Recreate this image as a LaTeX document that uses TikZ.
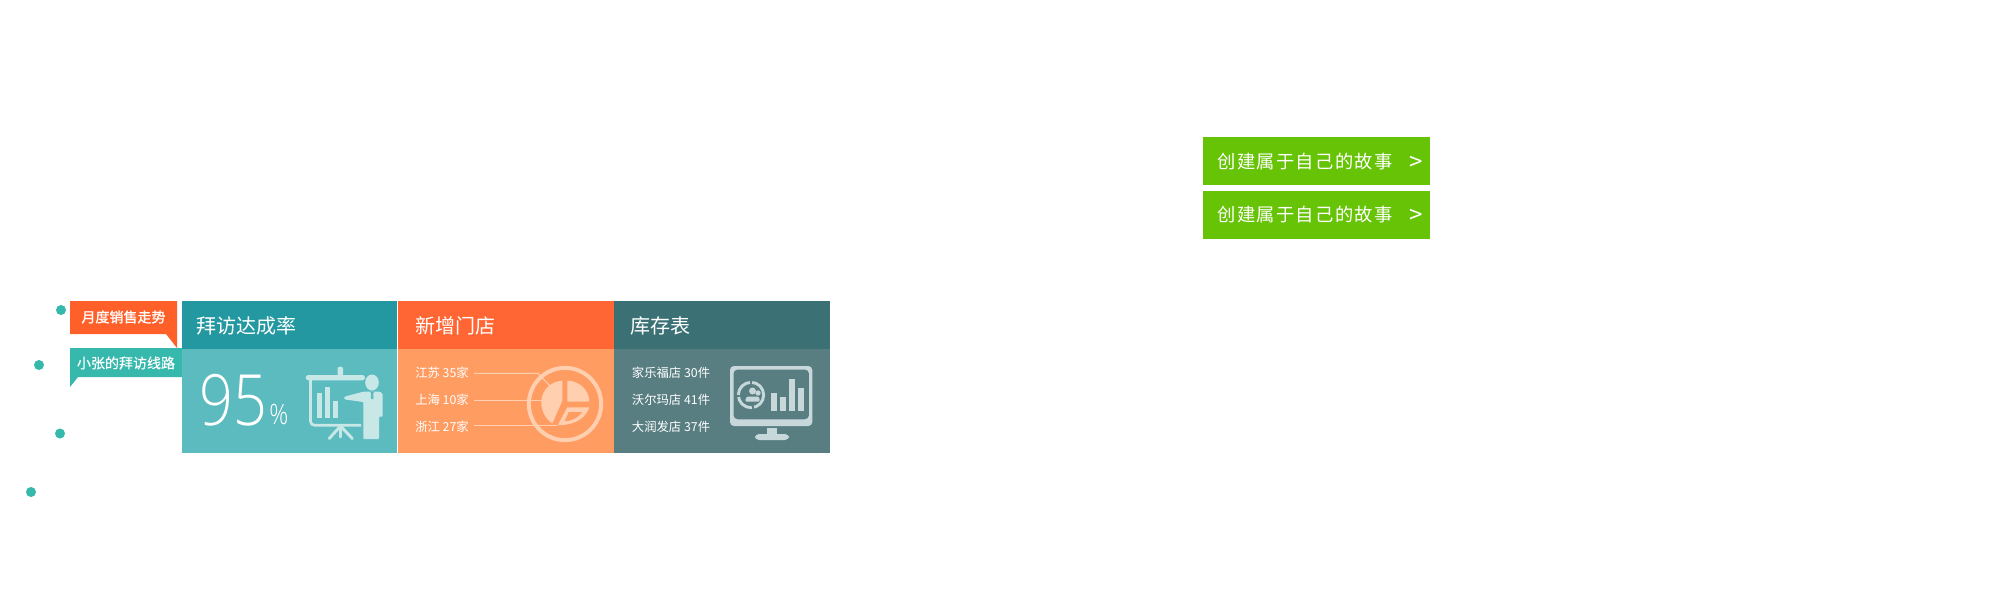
\documentclass[tikz,border=0pt]{standalone}
\usepackage{fontspec}
\newfontfamily\cjk{Noto Sans CJK SC}
\newfontfamily\cjkbold[FakeBold=1.2]{Noto Sans CJK SC}
\newfontfamily\cjksemi[FakeBold=0.4]{Noto Sans CJK SC}
\newfontfamily\cjkb[LetterSpace=7]{Noto Sans CJK SC}
\newfontfamily\thinf[FakeStretch=0.84]{Open Sans Light}
\definecolor{tealdot}{HTML}{36B8AC}
\definecolor{lblorange}{HTML}{FF6029}
\definecolor{hteal}{HTML}{2398A0}
\definecolor{bteal}{HTML}{5CBBBF}
\definecolor{horange}{HTML}{FF6633}
\definecolor{borange}{HTML}{FF9C62}
\definecolor{hdark}{HTML}{3B7074}
\definecolor{bdark}{HTML}{587E82}
\definecolor{icteal}{HTML}{C8E8E8}
\definecolor{icorange}{HTML}{FFCFB0}
\definecolor{icdark}{HTML}{C8D8DA}
\definecolor{btngreen}{HTML}{66C305}
\tikzset{
  txt/.style={anchor=west,inner sep=0pt,text=white,font=\cjk},
  headtxt/.style={txt,font=\cjk\fontsize{15}{18}\selectfont},
  smalltxt/.style={txt,font=\cjk\fontsize{9.25}{11}\selectfont},
  lbltxt/.style={anchor=center,inner sep=0pt,text=white,font=\cjkbold\fontsize{10.5}{13}\selectfont},
  lbltxtb/.style={anchor=center,inner sep=0pt,text=white,font=\cjksemi\fontsize{10.5}{13}\selectfont},
  btntxt/.style={txt,font=\cjkb\fontsize{13.7}{16}\selectfont},
  gttxt/.style={anchor=center,inner sep=0pt,text=white,font=\cjk\fontsize{18}{20}\selectfont},
  dot/.style={circle,fill=tealdot,inner sep=0pt,minimum size=7.5pt},
  leader/.style={draw=icorange,line width=0.75pt},
}
\begin{document}
\begin{tikzpicture}[x=0.75pt,y=-0.75pt]
\useasboundingbox (0,0) rectangle (2000,600);
\fill[white] (0,0) rectangle (2000,600);
% timeline dots
\node[dot] (d1) at (61,310) {};
\node[dot] (d2) at (39,365) {};
\node[dot] (d3) at (60,433.5) {};
\node[dot] (d4) at (31,492) {};
% labels
\fill[lblorange] (70,301) -- (177,301) -- (177,348) -- (166,334) -- (70,334) -- cycle;
\fill[tealdot] (70,348) -- (182,348) -- (182,377) -- (78,377) -- (70,387) -- cycle;
\node[lbltxt] (l1) at (123.5,317) {月度销售走势};
\node[lbltxtb] (l2) at (126,363) {小张的拜访线路};
% panels
\fill[hteal] (182,301) rectangle (397,349);
\fill[bteal] (182,349) rectangle (397,453);
\fill[horange] (398,301) rectangle (614,349);
\fill[borange] (398,349) rectangle (614,453);
\fill[hdark] (614,301) rectangle (830,349);
\fill[bdark] (614,349) rectangle (830,453);
\node[headtxt] (h1) at (196,325.5) {拜访达成率};
\node[headtxt] (h2) at (415,325.5) {新增门店};
\node[headtxt] (h3) at (630,325.5) {库存表};
% 95 %
\node[anchor=base west,inner sep=0pt,text=white,font=\thinf\fontsize{53}{60}\selectfont] (pct) at (199,425) {95};
\node[anchor=base west,inner sep=0pt,text=white,font=\thinf\fontsize{21}{24}\selectfont] (pctsign) at (269,424) {\%};
% presenter icon
\fill[icteal,rounded corners=2pt] (305.7,375) rectangle (365,380.3);
\fill[icteal,rounded corners=1.5pt] (337.7,366.7) rectangle (343,376);
\draw[icteal,line width=2pt,rounded corners=3pt] (310.5,380) -- (310.5,425.3) -- (361,425.3);
\fill[icteal] (317.3,392.7) rectangle (322.3,417.7);
\fill[icteal] (325.3,387.3) rectangle (330.3,417.7);
\fill[icteal] (333.3,400.7) rectangle (338.3,417.7);
\draw[icteal,line width=2.2pt,line cap=round] (340.5,426) -- (329.3,438.5);
\draw[icteal,line width=2.2pt,line cap=round] (340.5,426) -- (352.3,438.5);
\draw[icteal,line width=2.2pt,line cap=round] (340.5,426) -- (340.5,437);
\fill[icteal] (372,382.5) ellipse [x radius=5.1pt,y radius=6pt];
\fill[icteal,rounded corners=0.6pt] (363.3,391.7) -- (380,391.7) -- (382.7,394) -- (382.7,416.7) -- (379,416.7) -- (379,439) -- (363.3,439) -- (363.3,402) -- (345,399.5) -- (344,398) -- (345,396.5) -- cycle;
\fill[bteal] (370,391.7) -- (374.5,391.7) -- (373.2,393.5) -- (373.6,398) -- (372.2,399.5) -- (370.8,398) -- (371.2,393.5) -- cycle;
% list texts, orange
\node[smalltxt] (a1) at (415,373) {江苏 35家};
\node[smalltxt] (a2) at (415,400) {上海 10家};
\node[smalltxt] (a3) at (415,427) {浙江 27家};
% leaders
\coordinate (e1) at (550,386);
\coordinate (b1) at (538,373.3);
\coordinate (s1) at (474,373.3);
\coordinate (s2) at (474,400);
\coordinate (e2) at (542,400);
\coordinate (s3) at (474,425.5);
\coordinate (e3) at (557,425.5);
\draw[leader] (s1) -- (b1) -- (e1);
\draw[leader] (s2) -- (e2);
\draw[leader] (s3) -- (e3);
% pie icon
\draw[icorange,line width=3pt] (565,404) circle [radius=27.1pt];
\fill[icorange] (567.3,380.7) -- (567.3,401.7) -- (589.3,401.7)
  .. controls (589.3,390) and (579,380.7) .. cycle;
\fill[icorange] (562.3,380.7) -- (562.3,400.7) -- (552.3,423.5)
  .. controls (545,418) and (541.3,411) .. (541.3,402)
  .. controls (541.3,390.5) and (551,381) .. cycle;
\fill[icorange,even odd rule] (567.3,407.3) -- (589.3,407.3)
  .. controls (586,417) and (577,425) .. (557.7,425.3) -- cycle
  (568.8,411.8) -- (582.7,411.8)
  .. controls (579,417) and (573,421) .. (564.3,421.3) -- cycle;
% list texts, dark
\node[smalltxt] (b1t) at (631.7,373) {家乐福店 30件};
\node[smalltxt] (b2t) at (631.7,400) {沃尔玛店 41件};
\node[smalltxt] (b3t) at (631.7,427) {大润发店 37件};
% monitor icon
\fill[icdark,even odd rule,rounded corners=3pt] (730,366) rectangle (812.3,426)
  (733.5,369.5) rectangle (809,419.3);
\fill[icdark] (766.7,428) rectangle (777.3,435);
\fill[icdark,rounded corners=3pt] (755,440) -- (755,434) -- (789,434) -- (789,440) -- cycle;
\fill[icdark] (771,392.7) rectangle (776.7,410.7);
\fill[icdark] (780,396.7) rectangle (785.7,410.7);
\fill[icdark] (789,379) rectangle (794.7,410.7);
\fill[icdark] (798,387.7) rectangle (803.7,410.7);
\draw[icdark,line width=2.2pt,dash pattern=on 14pt off 1.6pt] (751,395) circle [radius=9.5pt];
\fill[icdark] (752.5,391) circle [radius=2.6pt];
\fill[icdark] (758,393) circle [radius=2pt];
\fill[icdark,rounded corners=1pt] (745,401.5) -- (746.5,396.5) -- (759,396.5) -- (760,401.5) -- cycle;
% buttons
\fill[btngreen] (1203,137) rectangle (1430,185);
\fill[btngreen] (1203,191) rectangle (1430,239);
\node[btntxt] (bt1) at (1217.5,161.5) {创建属于自己的故事};
\node[btntxt] (bt2) at (1217.5,215) {创建属于自己的故事};
\node[gttxt] (g1) at (1416,163) {>};
\node[gttxt] (g2) at (1416,216.5) {>};
\end{tikzpicture}
\end{document}
